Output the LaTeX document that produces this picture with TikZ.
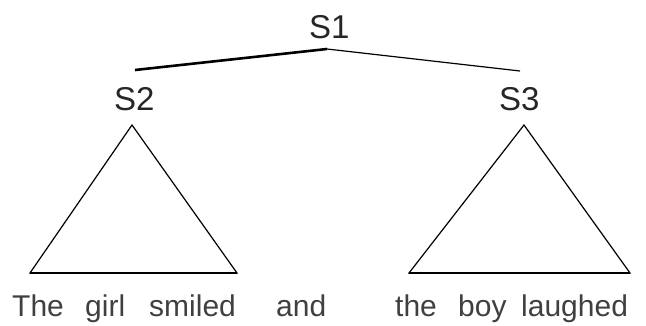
\documentclass[tikz,border=0pt]{standalone}
\usepackage{fontspec}
\setmainfont{Liberation Sans}
\begin{document}
\begin{tikzpicture}[x=1pt,y=1pt,
  lab/.style={anchor=base west,inner sep=0pt,font=\fontsize{33}{36}\selectfont,text=black!85},
  word/.style={anchor=base west,inner sep=0pt,font=\fontsize{30}{36}\selectfont,text=black!75},
  tri/.style={draw=black,line width=1.2pt,line join=miter},
  edge/.style={draw=black,line width=1.2pt}]
\useasboundingbox (0,0) rectangle (646,325);
% labels
\node[lab] (s1) at (309,287) {S1};
\node[lab] (s2) at (114,215) {S2};
\node[lab] (s3) at (499,215) {S3};
% branch coordinates
\coordinate (top) at (327,276);
\coordinate (l) at (135,255);
\coordinate (r) at (520,254);
\draw[edge,line width=2.6pt] (l) -- (top);
\draw[edge] (top) -- (r);
% triangles
\coordinate (a1) at (132,200);
\coordinate (b1) at (30,52);
\coordinate (c1) at (237,52);
\draw[tri] (a1) -- (c1) -- (b1) -- cycle;
\draw[line width=1.8pt] (b1) -- (c1);
\coordinate (a2) at (524,200);
\coordinate (b2) at (409,52);
\coordinate (c2) at (630,52);
\draw[tri] (a2) -- (c2) -- (b2) -- cycle;
\draw[line width=1.8pt] (b2) -- (c2);
% words
\node[word] (w1) at (12,9) {The};
\node[word] (w2) at (85,9) {girl};
\node[word] (w3) at (149,9) {smiled};
\node[word] (w4) at (276,9) {and};
\node[word] (w5) at (395,9) {the};
\node[word] (w6) at (458,9) {boy};
\node[word] (w7) at (521,9) {laughed};
\end{tikzpicture}
\end{document}
